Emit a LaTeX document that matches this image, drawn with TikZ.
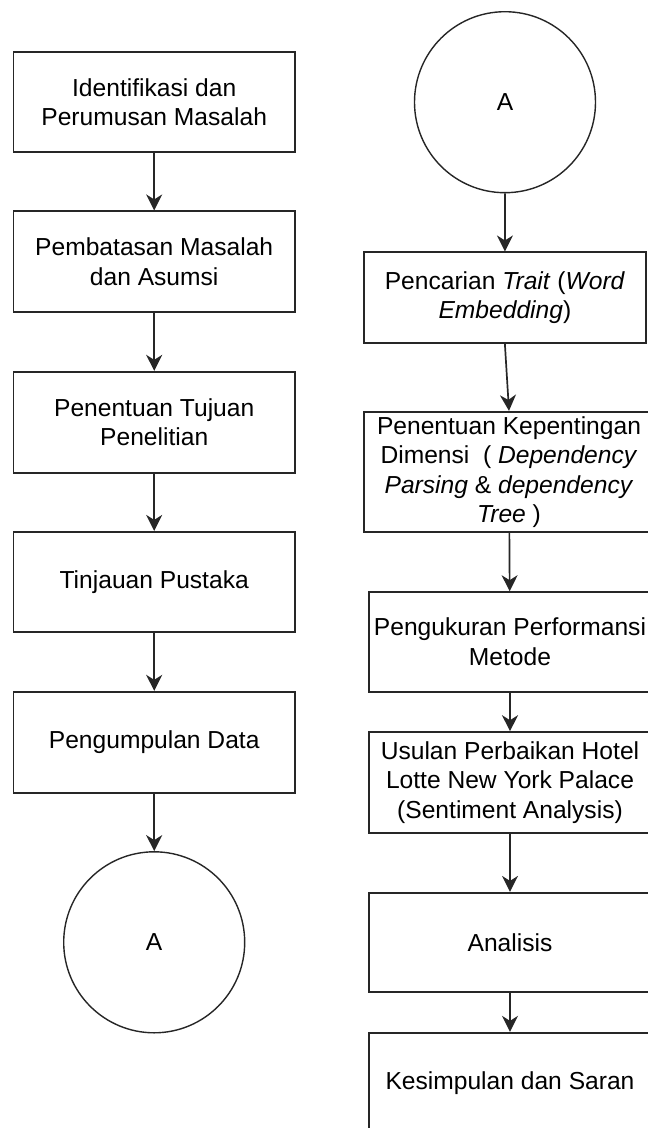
\documentclass[tikz,border=0pt]{standalone}
\usepackage{fontspec}
\setmainfont{Liberation Sans}
\usetikzlibrary{arrows.meta}
\begin{document}
\begin{tikzpicture}[x=1pt,y=-1pt,
  every node/.style={font=\fontsize{24.6}{29.5}\selectfont, text=black},
  box/.style={draw=black!85, line width=1.7pt, fill=white, align=center, inner sep=0pt},
  conn/.style={circle, draw=black!85, line width=1.4pt, fill=white, minimum size=181pt, inner sep=0pt},
  flow/.style={draw=black!85, line width=1.7pt, -{Stealth[length=16pt,width=16pt,inset=5pt]}}]
\useasboundingbox (0,0) rectangle (648,1128);
\clip (0,0) rectangle (648,1128);
% left column
\node[box, minimum width=281.7pt, minimum height=100.6pt] (b1) at (154.2,102) {Identifikasi dan\\Perumusan Masalah};
\node[box, minimum width=281.7pt, minimum height=101pt] (b2) at (154.2,261.8) {Pembatasan Masalah\\dan Asumsi};
\node[box, minimum width=281.7pt, minimum height=101pt] (b3) at (154.2,422.2) {Penentuan Tujuan\\Penelitian};
\node[box, minimum width=281.7pt, minimum height=100.3pt] (b4) at (154.2,581.9) {Tinjauan Pustaka};
\node[box, minimum width=281.7pt, minimum height=101pt] (b5) at (154.2,742.2) {Pengumpulan Data};
\node[conn] (a1) at (154.2,942.3) {A};
% right column
\node[conn] (a2) at (505,102.2) {A};
\node[box, minimum width=281.7pt, minimum height=91pt] (r1) at (504.9,297.8) {Pencarian \textit{Trait} (\textit{Word}\\\textit{Embedding})};
\node[box, minimum width=290pt, minimum height=120.3pt] (r2) at (509,471.9) {Penentuan Kepentingan\\Dimensi\ \ ( \textit{Dependency}\\\textit{Parsing} \& \textit{dependency}\\\textit{Tree} )};
\node[box, minimum width=282pt, minimum height=99.7pt] (r3) at (510,641.9) {Pengukuran Performansi\\Metode};
\node[box, minimum width=282pt, minimum height=100.7pt] (r4) at (510,782.4) {Usulan Perbaikan Hotel\\Lotte New York Palace\\(Sentiment Analysis)};
\node[box, minimum width=282pt, minimum height=99.3pt] (r5) at (510,942.4) {Analisis};
\node[box, minimum width=282pt, minimum height=101pt] (r6) at (510,1083.2) {Kesimpulan dan Saran};
% connectors
\draw[flow] (b1) -- (b2);
\draw[flow] (b2) -- (b3);
\draw[flow] (b3) -- (b4);
\draw[flow] (b4) -- (b5);
\draw[flow] (b5) -- (a1);
\draw[flow] (a2) -- (r1);
\draw[flow] (r1.south) -- (r2.north);
\draw[flow] (r2) -- (r3);
\draw[flow] (r3) -- (r4);
\draw[flow] (r4) -- (r5);
\draw[flow] (r5) -- (r6);
\end{tikzpicture}
\end{document}
